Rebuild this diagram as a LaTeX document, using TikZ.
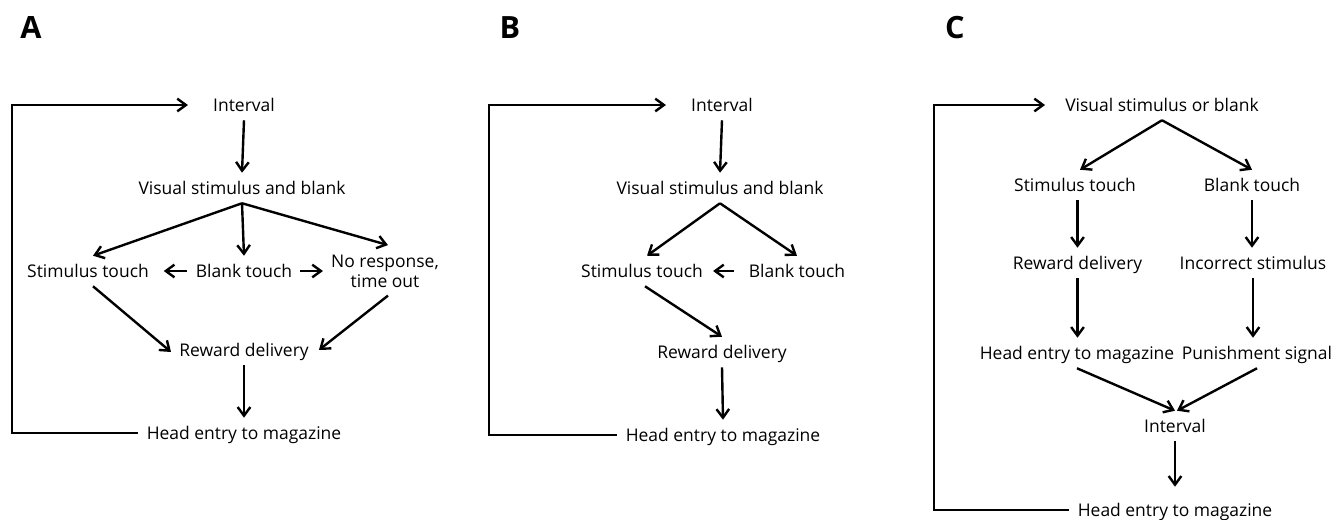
\documentclass[tikz,border=0pt]{standalone}
\usepackage{fontspec}
\setmainfont{Open Sans}
\usetikzlibrary{arrows.meta}
\begin{document}
\begin{tikzpicture}[x=0.75pt,y=-0.75pt,
  lbl/.style={font=\fontsize{13.1}{15}\selectfont, inner sep=0pt, minimum height=22.5pt, text height=12pt, text depth=2.25pt},
  panel/.style={font=\fontsize{23}{26}\selectfont\bfseries, inner sep=0pt},
  arr/.style={line width=1.8pt, -{Straight Barb[length=6.5pt,width=9.5pt]}},
  ln/.style={line width=1.8pt}]
\useasboundingbox (0,0) rectangle (1342,519);
% ---------------- Panel A
\node[panel] (pA) at (31,28) {A};
\node[lbl] (aint) at (244,105) {Interval};
\node[lbl] (avis) at (242,188) {Visual stimulus and blank};
\node[lbl] (ast) at (88,271) {Stimulus touch};
\node[lbl] (abt) at (244,271) {Blank touch};
\node[lbl, align=center, text height=, text depth=, minimum height=0pt] (anr) at (385,271) {No response,\\time out};
\node[lbl] (arw) at (244,350) {Reward delivery};
\node[lbl] (ahe) at (244,433) {Head entry to magazine};
\coordinate (aL) at (12,270);
\draw[arr] (aint.south) -- (avis.north);
\draw[arr] (avis.south) -- ([xshift=3.75pt]ast.north);
\draw[arr] (avis.south) -- (abt.north);
\draw[arr] (avis.south) -- ([xshift=2.25pt,yshift=7pt]anr.north);
\draw[arr, shorten <=6.75pt, shorten >=11pt] (abt.west) -- (ast.east);
\draw[arr, shorten <=6pt, shorten >=6pt] (abt.east) -- (abt.east -| anr.west);
\draw[arr] ([xshift=3.75pt]ast.south) -- ([xshift=-6pt,yshift=-1.5pt]arw.west);
\draw[arr] ([xshift=2.25pt,yshift=-6pt]anr.south) -- ([xshift=7.5pt]arw.east);
\draw[arr] (arw.south) -- (ahe.north);
\draw[arr] ([xshift=-6.75pt]ahe.west) -| (aL) |- ([xshift=-18.75pt]aint.west);
% ---------------- Panel B
\node[panel] (pB) at (510,28) {B};
\node[lbl] (bint) at (722,105) {Interval};
\node[lbl] (bvis) at (720,188) {Visual stimulus and blank};
\node[lbl] (bst) at (642,271) {Stimulus touch};
\node[lbl] (bbt) at (797,271) {Blank touch};
\node[lbl] (brw) at (722,352) {Reward delivery};
\node[lbl] (bhe) at (723,435) {Head entry to magazine};
\coordinate (bL) at (489,270);
\draw[arr] (bint.south) -- (bvis.north);
\draw[arr] (bvis.south) -- ([xshift=3.75pt]bst.north);
\draw[arr] (bvis.south) -- (bbt.north);
\draw[arr, shorten <=11pt, shorten >=7.5pt] (bbt.west) -- (bst.east);
\draw[arr] ([xshift=2.25pt]bst.south) -- (brw.north);
\draw[arr] (brw.south) -- (bhe.north);
\draw[arr] ([xshift=-6.75pt]bhe.west) -| (bL) |- ([xshift=-18.75pt]bint.west);
% ---------------- Panel C
\node[panel] (pC) at (955,28) {C};
\node[lbl] (cvis) at (1162,105) {Visual stimulus or blank};
\node[lbl] (cst) at (1075,185) {Stimulus touch};
\node[lbl] (cbt) at (1252,185) {Blank touch};
\node[lbl] (crw) at (1077.5,263) {Reward delivery};
\node[lbl] (cin) at (1253,263) {Incorrect stimulus};
\node[lbl] (che) at (1077,353) {Head entry to magazine};
\node[lbl] (cpu) at (1257,353) {Punishment signal};
\node[lbl] (cint) at (1175,426) {Interval};
\node[lbl] (che2) at (1175,510) {Head entry to magazine};
\coordinate (cL) at (934,300);
\draw[arr] (cvis.south) -- ([xshift=3.75pt]cst.north);
\draw[arr] (cvis.south) -- (cbt.north);
\draw[arr] (crw.north |- cst.south) -- (crw.north);
\draw[arr] (cbt.south) -- (cbt.south |- cin.north);
\draw[arr] (crw.south) -- (crw.south |- che.north);
\draw[arr] (cin.south) -- (cin.south |- cpu.north);
\draw[arr] (che.south) -- (cint.north);
\draw[arr] (cpu.south) -- ([xshift=1.5pt]cint.north);
\draw[arr] (cint.south) -- ([yshift=6pt]che2.north);
\draw[arr] ([xshift=-6.75pt]che2.west) -| (cL) |- ([xshift=-15pt]cvis.west);
\end{tikzpicture}
\end{document}
